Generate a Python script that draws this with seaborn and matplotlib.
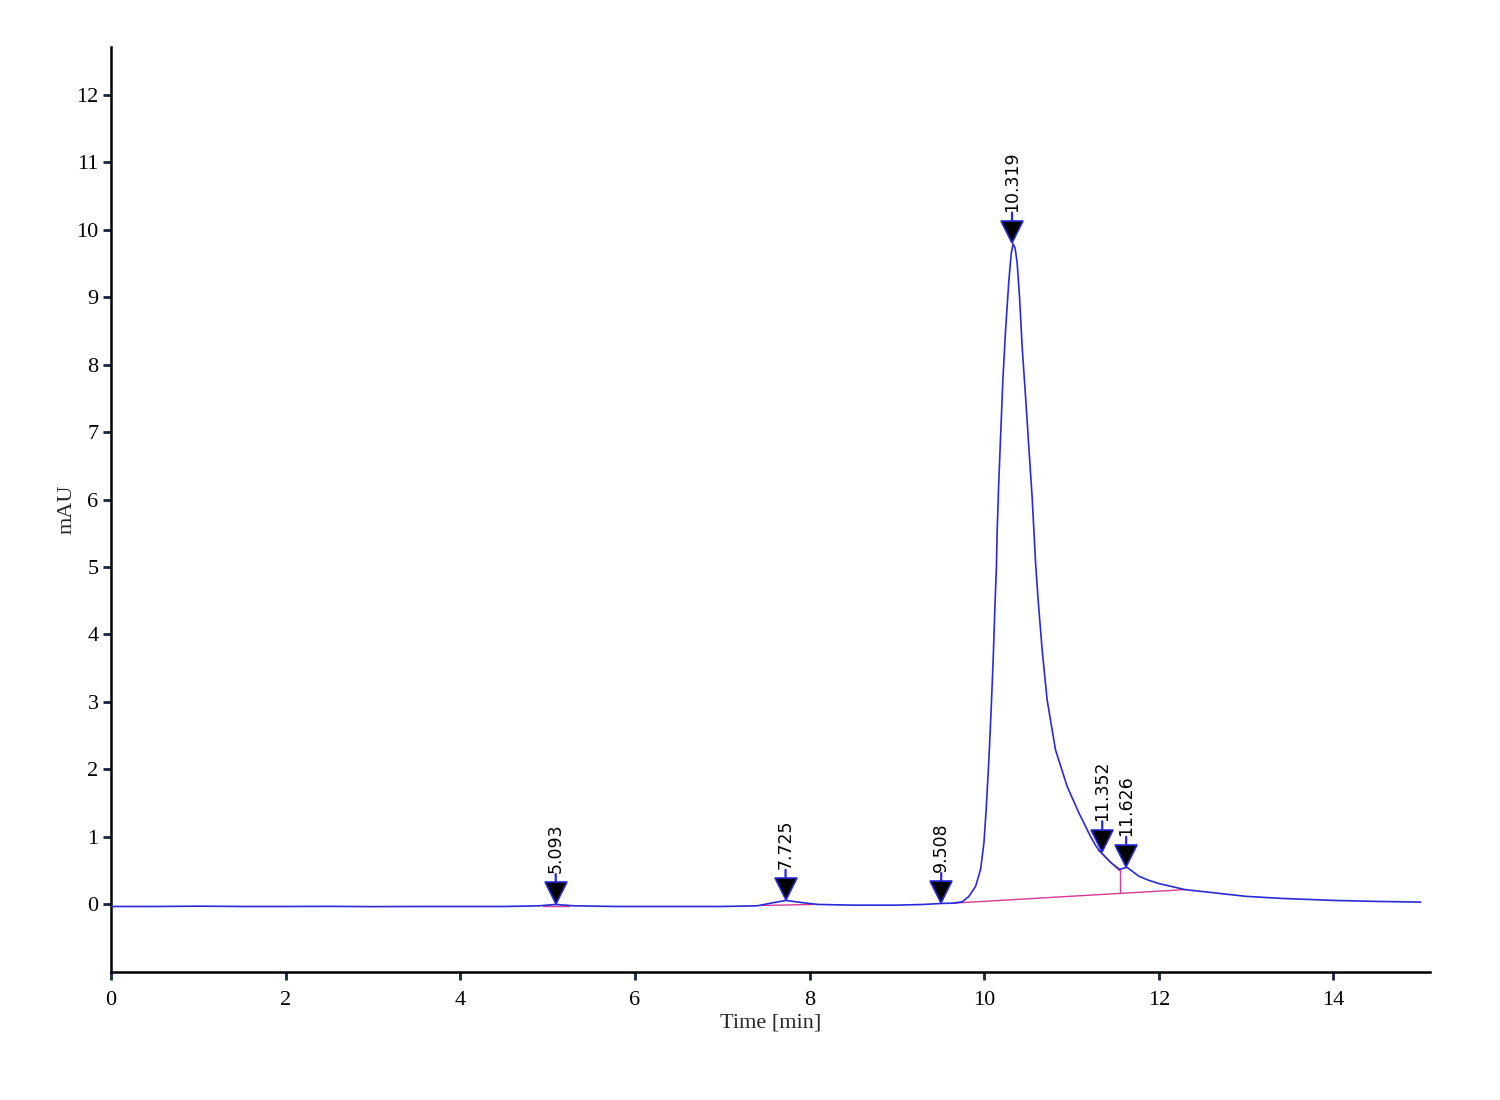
import numpy as np
import pandas as pd
import matplotlib
matplotlib.use('Agg')
import matplotlib.pyplot as plt
from matplotlib.transforms import offset_copy
import seaborn as sns

# Chromatogram trace (time in min, signal in mAU)
time = [0.0, 0.5, 1.0, 1.5, 2.0, 2.5, 3.0, 3.5, 4.0, 4.5, 4.9, 5.09, 5.3, 5.8,
        6.5, 7.0, 7.4, 7.6, 7.73, 7.9, 8.1, 8.5, 9.0, 9.3, 9.51, 9.65,
        9.749, 9.825, 9.902, 9.959, 9.997, 10.023, 10.054, 10.080, 10.103,
        10.122, 10.140, 10.149, 10.168, 10.191, 10.214, 10.245, 10.283, 10.31,
        10.332, 10.355, 10.378, 10.405, 10.435, 10.474, 10.511, 10.549, 10.59,
        10.618, 10.664, 10.721, 10.817, 10.950, 11.083, 11.217, 11.274, 11.31,
        11.45, 11.55, 11.636, 11.77, 11.88, 12.0, 12.3, 12.65, 13.0, 13.4,
        14.0, 14.5, 15.0]
signal = [-0.03, -0.03, -0.025, -0.03, -0.03, -0.028, -0.032, -0.03, -0.03,
          -0.03, -0.02, 0.0, -0.02, -0.03, -0.03, -0.03, -0.02, 0.03, 0.06,
          0.03, 0.0, -0.01, -0.01, 0.0, 0.015, 0.02,
          0.04, 0.12, 0.27, 0.52, 0.91, 1.41, 2.15, 2.89, 3.63,
          4.37, 5.0, 5.55, 6.29, 7.03, 7.77, 8.51, 9.25, 9.65,
          9.79, 9.72, 9.5, 9.0, 8.26, 7.52, 6.78, 6.04, 5.03,
          4.51, 3.77, 3.03, 2.29, 1.75, 1.36, 1.01, 0.88, 0.81,
          0.62, 0.52, 0.55, 0.42, 0.36, 0.31, 0.22, 0.17, 0.12, 0.09,
          0.06, 0.045, 0.035]

# Peak marks
peak_labels = ['5.093', '7.725', '9.508', '10.319', '11.352', '11.626']
peak_time = [5.093, 7.725, 9.508, 10.319, 11.352, 11.626]
peak_height = [0.0, 0.06, 0.015, 9.8, 0.78, 0.55]

# Integration baselines (magenta)
base_segments = [
    ([4.95, 5.25], [-0.02, -0.02]),
    ([7.45, 8.05], [-0.015, 0.0]),
    ([9.65, 12.3], [0.02, 0.22]),
    ([11.31, 11.55], [0.80, 0.50]),
    ([11.56, 11.56], [0.17, 0.52]),
]

blue = '#2a2ad8'
pink = '#d43a96'

sns.set_theme(style='ticks')
plt.rcParams['font.family'] = ['Liberation Serif', 'DejaVu Serif']

fig = plt.figure(figsize=(15, 11), dpi=100)
ax = fig.add_axes([0.074, 0.1164, 0.879, 0.8406])

for bx, by in base_segments:
    ax.plot(bx, by, color=pink, lw=1.0, zorder=2)

trace = pd.DataFrame({'time': time, 'signal': signal})
sns.lineplot(data=trace, x='time', y='signal', color=blue, lw=1.2, ax=ax, zorder=3)

ms = 16
stem = 6
for lab, px, py in zip(peak_labels, peak_time, peak_height):
    # blue stem above the triangle
    ax.annotate('', xy=(px, py), xytext=(0, ms + stem), textcoords='offset points',
                arrowprops=dict(arrowstyle='-', color=blue, lw=1.6,
                                shrinkA=0, shrinkB=ms), zorder=5)
    # triangle with its tip on the peak
    ax.plot([px], [py], marker='v', ms=ms, mfc='black', mec=blue, mew=1.2,
            ls='none', zorder=6,
            transform=offset_copy(ax.transData, fig=fig, x=0, y=ms / 2, units='points'))
    ax.annotate(lab, xy=(px, py), xytext=(0, ms + stem + 0.5), textcoords='offset points',
                rotation=90, ha='center', va='bottom', fontsize=12.5,
                family=['DejaVu Sans'], color='black', zorder=6)

ax.set_xlim(0, 15.1)
ax.set_ylim(-1, 12.7)
ax.set_xticks(np.arange(0, 15, 2))
ax.set_yticks(np.arange(0, 13, 1))
ax.tick_params(axis='both', length=6, width=2, color='#1a2340',
               labelsize=16, labelcolor='black', pad=3)
ax.tick_params(axis='x', pad=8)
for s in ['left', 'bottom']:
    ax.spines[s].set_linewidth(1.8)
    ax.spines[s].set_color('black')
sns.despine(ax=ax)
ax.grid(False)
ax.set_xlabel('Time [min]', fontsize=16, labelpad=2)
ax.set_ylabel('mAU', fontsize=16, labelpad=0)

fig.savefig('out.png', dpi=100, facecolor='white')
